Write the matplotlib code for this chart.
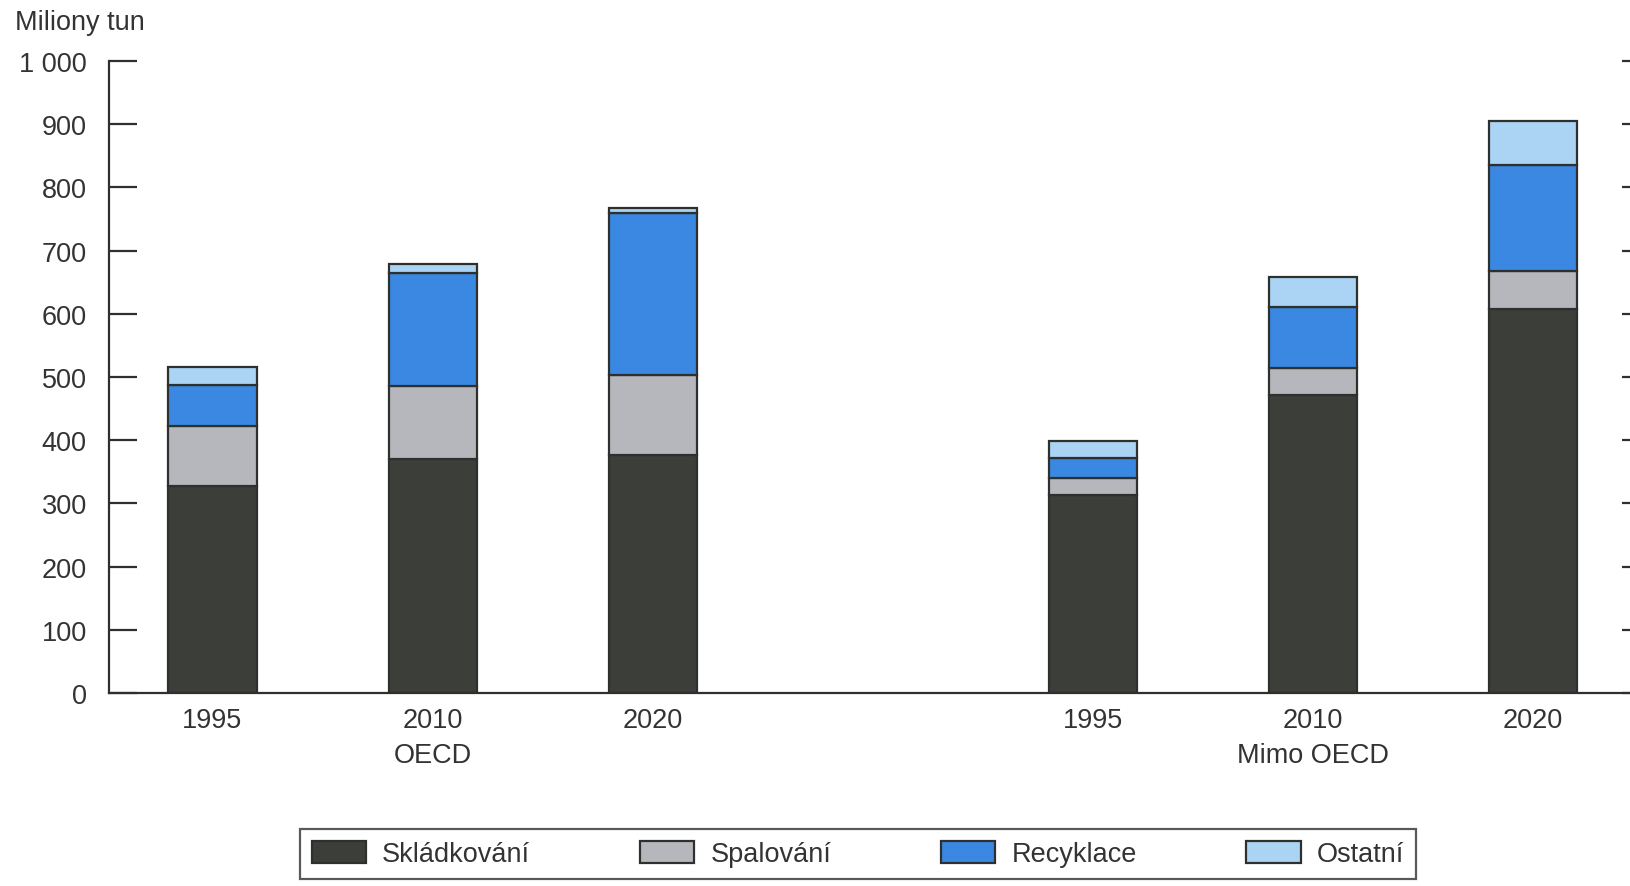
import matplotlib
matplotlib.use("Agg")
import matplotlib.pyplot as plt
from matplotlib.patches import Patch
import numpy as np

plt.rcParams['font.family'] = ['Liberation Sans', 'DejaVu Sans']

years = ["1995", "2010", "2020", "1995", "2010", "2020"]
groups = ["OECD", "Mimo OECD"]
series_names = ["Skládkování", "Spalování", "Recyklace", "Ostatní"]
skladkovani = [327, 370, 377, 314, 472, 607]
spalovani = [96, 115, 126, 26, 43, 61]
recyklace = [64, 179, 257, 32, 95, 168]
ostatni = [29, 15, 8, 26, 48, 69]
yticks = [0, 100, 200, 300, 400, 500, 600, 700, 800, 900, 1000]
ytick_labels = ["0", "100", "200", "300", "400", "500", "600", "700", "800", "900", "1 000"]

colors = ["#3b3e39", "#b5b7bd", "#3a88e2", "#aad3f4"]
edge = "#2e302e"
txt = "#333333"

fig = plt.figure(figsize=(16.3, 8.87), dpi=100)
ax = fig.add_axes([0.0669, 0.2176, 0.9331, 0.7125])

x = np.array([0, 1, 2, 4, 5, 6], dtype=float)
bottom = np.zeros(len(x))
for vals, c in zip([skladkovani, spalovani, recyklace, ostatni], colors):
    ax.bar(x, vals, width=0.40, bottom=bottom, color=c, edgecolor=edge, linewidth=1.6)
    bottom += np.array(vals)

ax.set_xlim(-0.47, 6.44)
ax.set_ylim(0, 1000)
ax.set_yticks(yticks)
ax.set_yticklabels(ytick_labels)

labels = []
for i, y in enumerate(years):
    if i == 1:
        labels.append(y + "\n" + groups[0])
    elif i == 4:
        labels.append(y + "\n" + groups[1])
    else:
        labels.append(y)
ax.set_xticks(x)
ax.set_xticklabels(labels, fontsize=19.5, color=txt, linespacing=1.45)
ax.tick_params(axis='x', length=0, pad=10)
ax.tick_params(axis='y', direction='in', length=20, width=1.6, color=edge,
               labelsize=19.5, labelcolor=txt, pad=16, right=True)
for t in ax.yaxis.get_major_ticks():
    t.tick2line.set_markersize(6)

for s in ["top", "right"]:
    ax.spines[s].set_visible(False)
for s in ["left", "bottom"]:
    ax.spines[s].set_linewidth(1.6)
    ax.spines[s].set_color(edge)

fig.text(0.009, 0.974, "Miliony tun", fontsize=19.5, color=txt, va='center', ha='left')

handles = [Patch(facecolor=c, edgecolor=edge, linewidth=1.6) for c in colors]
leg = fig.legend(handles, series_names, loc='center', ncol=4, mode='expand',
                 bbox_to_anchor=(286/1630, 1-884/887, (1430-286)/1630, 58/887),
                 fontsize=19.5, frameon=True, fancybox=False, handlelength=2.0,
                 handleheight=0.9, handletextpad=0.6, borderpad=0.45)
leg.get_frame().set_edgecolor(edge)
leg.get_frame().set_linewidth(1.6)
for t in leg.get_texts():
    t.set_color(txt)

fig.savefig("out.png", dpi=100)
